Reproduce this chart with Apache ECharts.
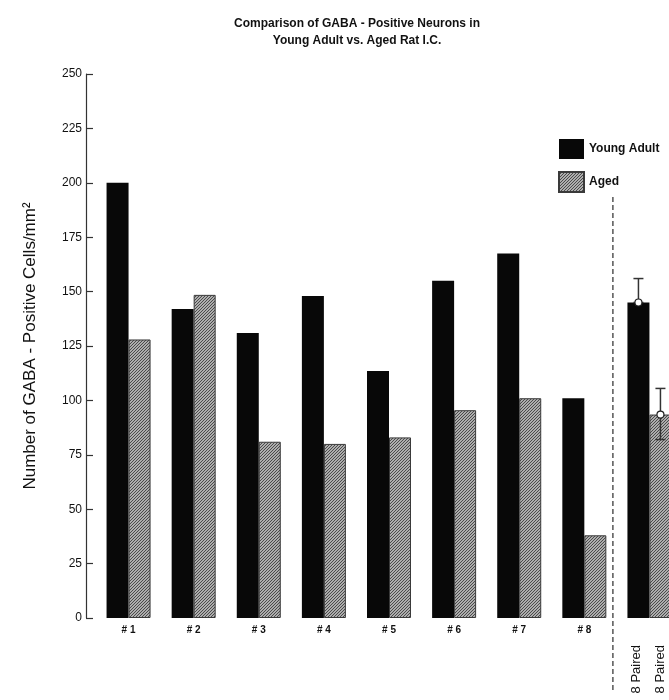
<!DOCTYPE html>
<html>
<head>
<meta charset="utf-8">
<script src="https://cdn.jsdelivr.net/npm/echarts@6/dist/echarts.min.js"></script>
<style>html,body{margin:0;padding:0;background:#fff;}#c{width:669px;height:700px;}</style>
</head>
<body>
<div id="c"></div>
<script>
var categories = ['# 1', '# 2', '# 3', '# 4', '# 5', '# 6', '# 7', '# 8', ''];
var summaryLabel = '8 Paired';
var youngAdult = [200, 142, 131, 148, 113.5, 155, 167.5, 101, 145];
var aged = [128, 148.5, 81, 80, 83, 95.5, 101, 38, 93.5];
// error bars for the paired summary: [categoryIndex, low, high, value]
var youngErr = [[8, 145, 156, 145]];
var agedErr = [[8, 82, 105.5, 93.5]];
var yTicks = [0, 25, 50, 75, 100, 125, 150, 175, 200, 225, 250];

function hatch() {
  var c = document.createElement('canvas');
  c.width = 3; c.height = 3;
  var g = c.getContext('2d');
  g.fillStyle = '#adadad';
  g.fillRect(0, 0, 3, 3);
  g.fillStyle = '#4a4a4a';
  g.fillRect(2, 0, 1, 1);
  g.fillRect(1, 1, 1, 1);
  g.fillRect(0, 2, 1, 1);
  return c;
}
var pattern = { image: hatch(), repeat: 'repeat' };
var FONT = 'Liberation Sans, Arial, sans-serif';

var chart = echarts.init(document.getElementById('c'));

function errRender(sign) {
  return function (params, api) {
    var idx = api.value(0);
    var lo = api.coord([idx, api.value(1)]);
    var hi = api.coord([idx, api.value(2)]);
    var mid = api.coord([idx, api.value(3)]);
    var x = lo[0] + sign * 11;
    return {
      type: 'group',
      children: [
        { type: 'line', shape: { x1: x, y1: lo[1], x2: x, y2: hi[1] }, style: { stroke: '#333', lineWidth: 1.5 } },
        { type: 'line', shape: { x1: x - 5, y1: hi[1], x2: x + 5, y2: hi[1] }, style: { stroke: '#333', lineWidth: 1.5 } },
        { type: 'line', shape: { x1: x - 5, y1: lo[1], x2: x + 5, y2: lo[1] }, style: { stroke: '#333', lineWidth: 1.5 } },
        { type: 'circle', shape: { cx: x, cy: mid[1], r: 3.5 }, style: { fill: '#fff', stroke: '#222', lineWidth: 1.2 } }
      ]
    };
  };
}

chart.setOption({
  animation: false,
  backgroundColor: '#fff',
  title: {
    text: 'Comparison of GABA - Positive Neurons in\nYoung Adult vs. Aged Rat I.C.',
    left: 352, top: 10, textAlign: 'center',
    textStyle: { fontFamily: FONT, fontSize: 12, fontWeight: 'bold', color: '#111', lineHeight: 17 }
  },
  legend: {
    orient: 'vertical', left: 558, top: 139, padding: 0,
    itemWidth: 25, itemHeight: 20, itemGap: 12, icon: 'rect',
    textStyle: { fontFamily: FONT, fontSize: 12, fontWeight: 'bold', color: '#111', padding: [2, 0, 0, 0] },
    data: ['Young Adult', 'Aged']
  },
  grid: { left: 96, top: 74, width: 586, height: 544, outerBoundsMode: 'none', containLabel: false },
  xAxis: {
    type: 'category', data: categories,
    axisLine: { show: false }, axisTick: { show: false },
    axisLabel: { margin: 7, fontFamily: FONT, fontSize: 10, fontWeight: 'bold', color: '#111' }
  },
  yAxis: {
    type: 'value', min: 0, max: 250, interval: 25, offset: 10,
    name: 'Number of GABA - Positive Cells/mm²', nameLocation: 'middle', nameGap: 47,
    nameTextStyle: { fontFamily: FONT, fontSize: 17, color: '#111' },
    axisLine: { show: true, lineStyle: { color: '#333', width: 1.2 } },
    axisTick: { show: true, inside: true, length: 7, lineStyle: { color: '#333', width: 1.2 } },
    splitLine: { show: false },
    axisLabel: { margin: 4, fontFamily: FONT, fontSize: 12, color: '#111',
      formatter: function (v) { return yTicks.indexOf(v) >= 0 ? String(v) : ''; } }
  },
  series: [
    { name: 'Young Adult', type: 'bar', data: youngAdult, barWidth: 22, barGap: '0%',
      itemStyle: { color: '#080808' } },
    { name: 'Aged', type: 'bar', data: aged, barWidth: 22, barGap: '0%',
      itemStyle: { color: pattern, borderColor: '#3a3a3a', borderWidth: 1 } },
    { type: 'custom', data: youngErr, renderItem: errRender(-1), z: 5, encode: { x: 0, y: [1, 2] } },
    { type: 'custom', data: agedErr, renderItem: errRender(1), z: 5, encode: { x: 0, y: [1, 2] } }
  ]
});

// separator and rotated summary labels positioned via the axis scale
var c7 = chart.convertToPixel({ xAxisIndex: 0 }, 7);
var c8 = chart.convertToPixel({ xAxisIndex: 0 }, 8);
var sepX = (c7 + c8) / 2 - 4;
chart.setOption({
  graphic: [
    { type: 'line', shape: { x1: sepX, y1: 197, x2: sepX, y2: 690 },
      style: { stroke: '#555', lineWidth: 1.5, lineDash: [5, 3] }, z: 10 },
    { type: 'text', x: c8 - 13, y: 645, rotation: Math.PI / 2,
      style: { text: summaryLabel, font: '13px ' + FONT, fill: '#111', align: 'right', verticalAlign: 'middle' } },
    { type: 'text', x: c8 + 11, y: 645, rotation: Math.PI / 2,
      style: { text: summaryLabel, font: '13px ' + FONT, fill: '#111', align: 'right', verticalAlign: 'middle' } }
  ]
});
</script>
</body>
</html>
